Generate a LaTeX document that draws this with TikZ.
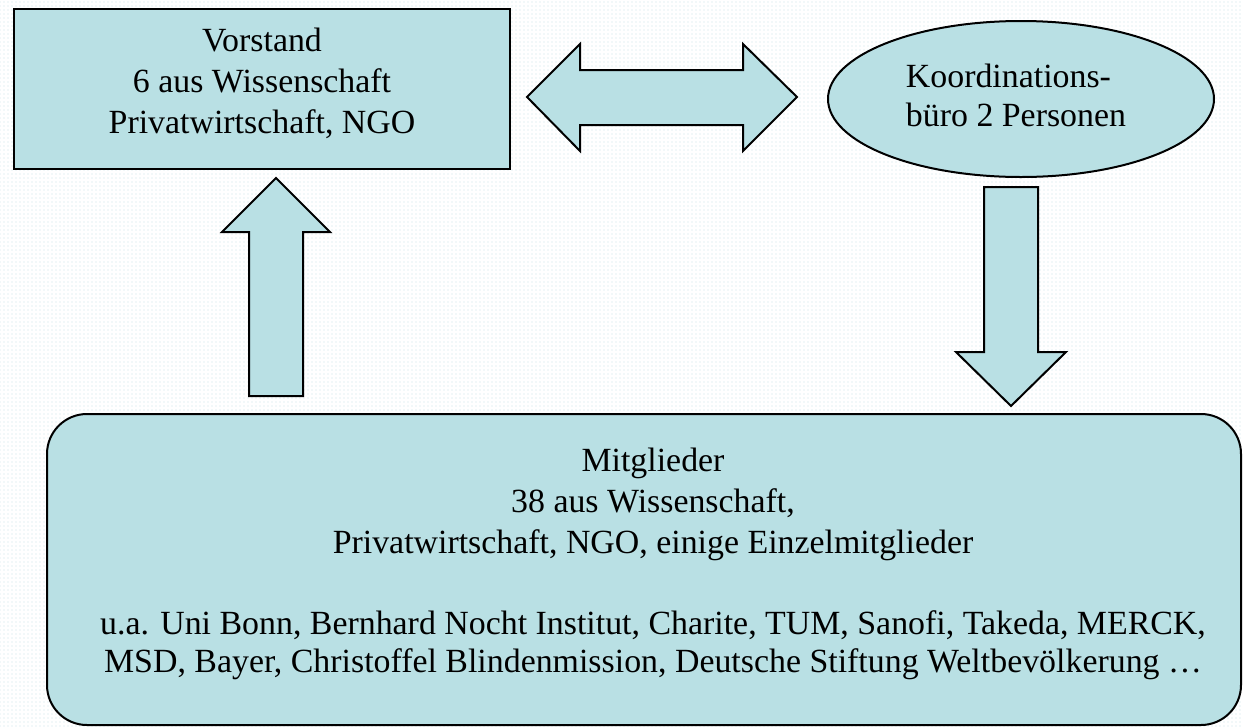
\documentclass[tikz,border=0pt]{standalone}
\usepackage{fontspec}
\setmainfont{Liberation Serif}
\usetikzlibrary{shapes.geometric,patterns}
\definecolor{boxfill}{RGB}{185,224,228}
\definecolor{dotcol}{RGB}{200,226,232}
\begin{document}
\begin{tikzpicture}[x=0.75pt,y=-0.75pt,
  shapestyle/.style={draw=black,line width=1.5pt,fill=boxfill,line join=miter,inner sep=0pt},
  txt/.style={font=\fontsize{25.4pt}{30.75pt}\selectfont,inner sep=0pt,text=black},
]
\fill[white] (0,0) rectangle (1243,726);
\fill[pattern=dots,pattern color=dotcol] (0,0) rectangle (1243,726);
\useasboundingbox (0,0) rectangle (1243,726);

% Vorstand
\node[shapestyle,rectangle,minimum width=372pt,minimum height=120pt] (vorstand) at (262,89) {};
\node[txt,align=center] (vorstandtext) at (262,83)
  {Vorstand\\6 aus Wissenschaft\\Privatwirtschaft, NGO};

% Koordinationsbuero
\node[shapestyle,ellipse,minimum width=289.5pt,minimum height=117pt] (buero) at (1021,99) {};
\node[txt,font=\fontsize{25.4pt}{29.25pt}\selectfont,align=left] (buerotext) at (1016,95)
  {Koordinations-\\büro 2 Personen};

% Mitglieder box
\node[shapestyle,rectangle,rounded corners=30pt,minimum width=895.5pt,minimum height=233.25pt]
  (mitglieder) at (644,569.5) {};
\node[txt,align=center] (mtitle) at (653,504)
  {Mitglieder\\38 aus Wissenschaft,\\Privatwirtschaft, NGO, einige Einzelmitglieder};
\node[txt,align=center,font=\fontsize{25.4pt}{28.5pt}\selectfont] (mlist) at (653,645)
  {u.a. Uni Bonn, Bernhard Nocht Institut, Charite, TUM, Sanofi, Takeda, MERCK,\\MSD, Bayer, Christoffel Blindenmission, Deutsche Stiftung Weltbevölkerung \dots};

% double arrow Vorstand <-> Buero
\draw[shapestyle] (527,97) -- (580,44) -- (580,70) -- (743,70) -- (743,44) -- (797,97)
  -- (743,151) -- (743,125) -- (580,125) -- (580,151) -- cycle;
% up arrow Mitglieder -> Vorstand
\draw[shapestyle] (276,178) -- (330,232) -- (303,232) -- (303,396) -- (249,396)
  -- (249,232) -- (222,232) -- cycle;
% down arrow Buero -> Mitglieder
\draw[shapestyle] (1011,406) -- (956,352) -- (984,352) -- (984,187) -- (1038,187)
  -- (1038,352) -- (1066,352) -- cycle;
\end{tikzpicture}
\end{document}
